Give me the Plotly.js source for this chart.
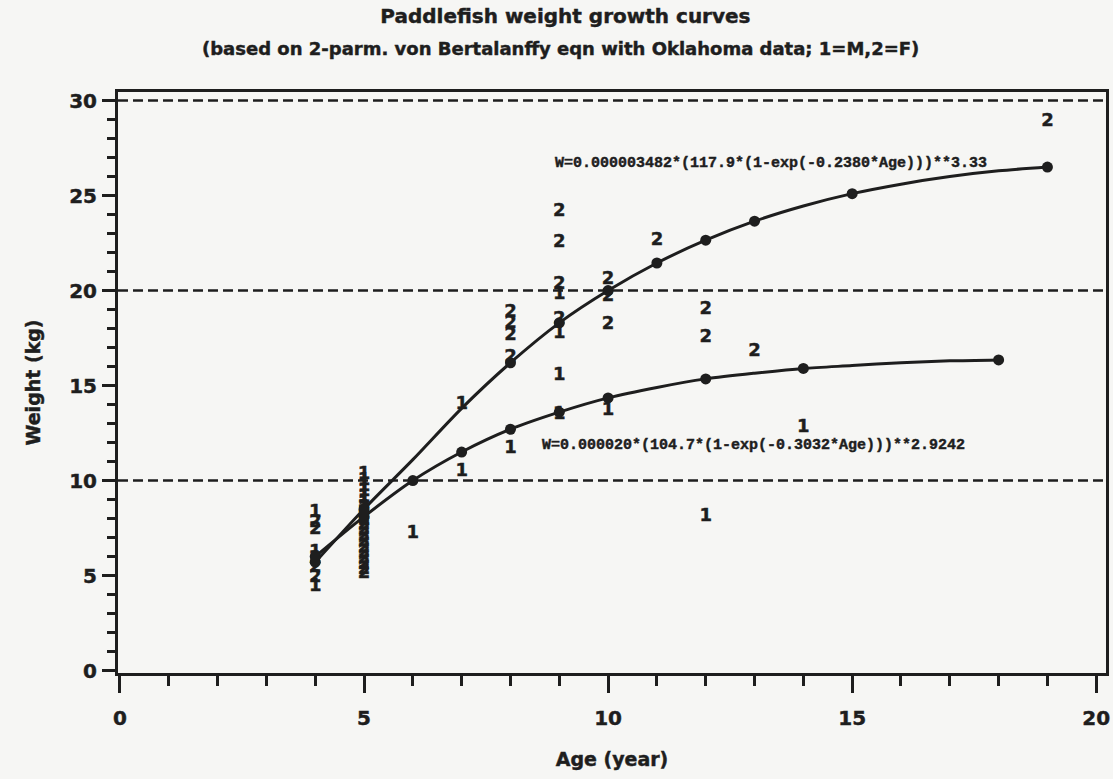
<!DOCTYPE html>
<html>
<head>
<meta charset="utf-8">
<script src="https://cdn.plot.ly/plotly-3.0.1.min.js"></script>
<style>
  html, body { margin: 0; padding: 0; background: #f6f6f4; }
  #chart { width: 1113px; height: 779px; }
  /* heavier strokes on the sans-serif labels */
  #chart text { stroke: #1e1e1e; stroke-width: 0.45px; }
</style>
</head>
<body>
<div id="chart"></div>
<script>
// Fitted 2-parameter von Bertalanffy weight curves (kg) by age (years)
const femaleCurveAge = [4, 5, 6, 7, 8, 9, 10, 11, 12, 13, 14, 15, 16, 17, 18, 19];
const femaleCurveW   = [5.7, 8.5, 11.1, 13.8, 16.2, 18.3, 20.0, 21.45, 22.65, 23.65, 24.45, 25.1, 25.6, 26.0, 26.3, 26.5];
const femaleCurveDot = [1, 1, 0, 0, 1, 1, 1, 1, 1, 1, 0, 1, 0, 0, 0, 1];

const maleCurveAge = [4, 5, 6, 7, 8, 9, 10, 11, 12, 13, 14, 15, 16, 17, 18];
const maleCurveW   = [6.0, 8.1, 10.0, 11.5, 12.7, 13.6, 14.35, 14.9, 15.35, 15.65, 15.9, 16.05, 16.2, 16.3, 16.35];
const maleCurveDot = [1, 1, 1, 1, 1, 1, 1, 0, 1, 0, 1, 0, 0, 0, 1];

// Observed fish: males plotted as "1", females as "2"
const maleObsAge = [4, 4, 4,
  5, 5, 5, 5, 5, 5, 5, 5, 5,
  6, 7, 7, 8, 9, 9, 9, 9, 10, 12, 14];
const maleObsW = [8.3, 6.2, 4.4,
  10.3, 10.0, 9.7, 9.4, 9.1, 8.8, 8.5, 8.2, 7.9,
  7.2, 14.0, 10.5, 11.7, 19.8, 17.75, 15.55, 13.5, 13.7, 8.1, 12.8];

const femaleObsAge = [4, 4, 4, 4, 4,
  5, 5, 5, 5, 5, 5, 5, 5, 5, 5, 5, 5, 5,
  8, 8, 8, 8, 9, 9, 9, 9, 10, 10, 10, 11, 12, 12, 13, 19];
const femaleObsW = [7.8, 7.4, 5.9, 5.4, 4.9,
  8.6, 8.3, 8.0, 7.7, 7.4, 7.1, 6.8, 6.5, 6.2, 5.9, 5.6, 5.3, 5.1,
  18.85, 18.25, 17.65, 16.5, 24.15, 22.55, 20.3, 18.5, 20.6, 19.7, 18.2, 22.65, 19.0, 17.55, 16.8, 28.9];

const refLevels = [10, 20, 30];

const femaleEqn = 'W=0.000003482*(117.9*(1-exp(-0.2380*Age)))**3.33';
const maleEqn   = 'W=0.000020*(104.7*(1-exp(-0.3032*Age)))**2.9242';
const femaleEqnPos = [8.87, 26.7];
const maleEqnPos   = [8.6, 11.87];

const titleText = 'Paddlefish weight growth curves';
const subtitleText = '(based on 2-parm. von Bertalanffy eqn with Oklahoma data; 1=M,2=F)';

const ink = '#1e1e1e';
const sans = 'DejaVu Sans';
const mono = 'Liberation Mono';

function curveTrace(ages, w, dots) {
  return {
    x: ages, y: w, type: 'scatter', mode: 'lines+markers',
    line: { color: ink, width: 3, shape: 'spline', smoothing: 0.8 },
    marker: { color: ink, opacity: 1, line: { width: 0 }, size: dots.map(d => d ? 11 : 0) },
    hoverinfo: 'x+y', showlegend: false
  };
}

function obsTrace(ages, w, symbol) {
  return {
    x: ages, y: w, type: 'scatter', mode: 'text',
    text: ages.map(() => symbol),
    textposition: 'middle center',
    textfont: { family: sans, size: 18, weight: 'bold', color: ink },
    hoverinfo: 'x+y', showlegend: false
  };
}

const traces = [
  curveTrace(femaleCurveAge, femaleCurveW, femaleCurveDot),
  curveTrace(maleCurveAge, maleCurveW, maleCurveDot),
  obsTrace(maleObsAge, maleObsW, '1'),
  obsTrace(femaleObsAge, femaleObsW, '2')
];

const shapes = refLevels.map(v => ({
  type: 'line', xref: 'paper', x0: 0, x1: 1, yref: 'y', y0: v, y1: v,
  line: { color: ink, width: 2.5, dash: '10px,5px' }, layer: 'below'
}));

const tickFont = { family: sans, size: 20, weight: 'bold', color: ink };
const titleFont = { family: sans, size: 19, weight: 'bold', color: ink };

const layout = {
  width: 1113, height: 779,
  paper_bgcolor: '#f6f6f4', plot_bgcolor: '#f6f6f4',
  margin: { l: 118, r: 7, t: 92, b: 106 },
  title: {
    text: titleText, xref: 'container', x: 0.508, xanchor: 'center',
    yref: 'container', y: 0.988, yanchor: 'top',
    font: { family: sans, size: 20, weight: 'bold', color: ink }
  },
  annotations: [
    { text: subtitleText, xref: 'paper', yref: 'paper', x: (560 - 118) / 988, y: 1 + (92 - 48) / 581,
      xanchor: 'center', yanchor: 'middle', showarrow: false,
      font: { family: sans, size: 18, weight: 'bold', color: ink } },
    { text: femaleEqn, x: femaleEqnPos[0], y: femaleEqnPos[1], xref: 'x', yref: 'y',
      xanchor: 'left', yanchor: 'middle', showarrow: false,
      font: { family: mono, size: 15, weight: 'bold', color: ink } },
    { text: maleEqn, x: maleEqnPos[0], y: maleEqnPos[1], xref: 'x', yref: 'y',
      xanchor: 'left', yanchor: 'middle', showarrow: false,
      font: { family: mono, size: 15, weight: 'bold', color: ink } }
  ],
  shapes: shapes,
  xaxis: {
    range: [-0.04, 20.2], tickmode: 'linear', tick0: 0, dtick: 5,
    ticks: 'outside', ticklen: 17, tickwidth: 3, tickcolor: ink,
    minor: { dtick: 1, ticks: 'outside', ticklen: 10, tickwidth: 3, tickcolor: ink },
    showline: true, linecolor: ink, linewidth: 3, mirror: true,
    showgrid: false, zeroline: false,
    tickfont: tickFont, ticklabelstandoff: 8,
    title: { text: 'Age (year)', font: titleFont, standoff: 24 }
  },
  yaxis: {
    range: [-0.13, 30.45], tickmode: 'linear', tick0: 0, dtick: 5,
    ticks: 'outside', ticklen: 13, tickwidth: 3, tickcolor: ink,
    minor: { dtick: 1, ticks: 'outside', ticklen: 8, tickwidth: 3, tickcolor: ink },
    showline: true, linecolor: ink, linewidth: 3, mirror: true,
    showgrid: false, zeroline: false,
    tickfont: tickFont, ticklabelstandoff: 1,
    title: { text: 'Weight (kg)', font: titleFont, standoff: 24 }
  }
};

Plotly.newPlot('chart', traces, layout, { displayModeBar: false, staticPlot: true });
</script>
</body>
</html>
